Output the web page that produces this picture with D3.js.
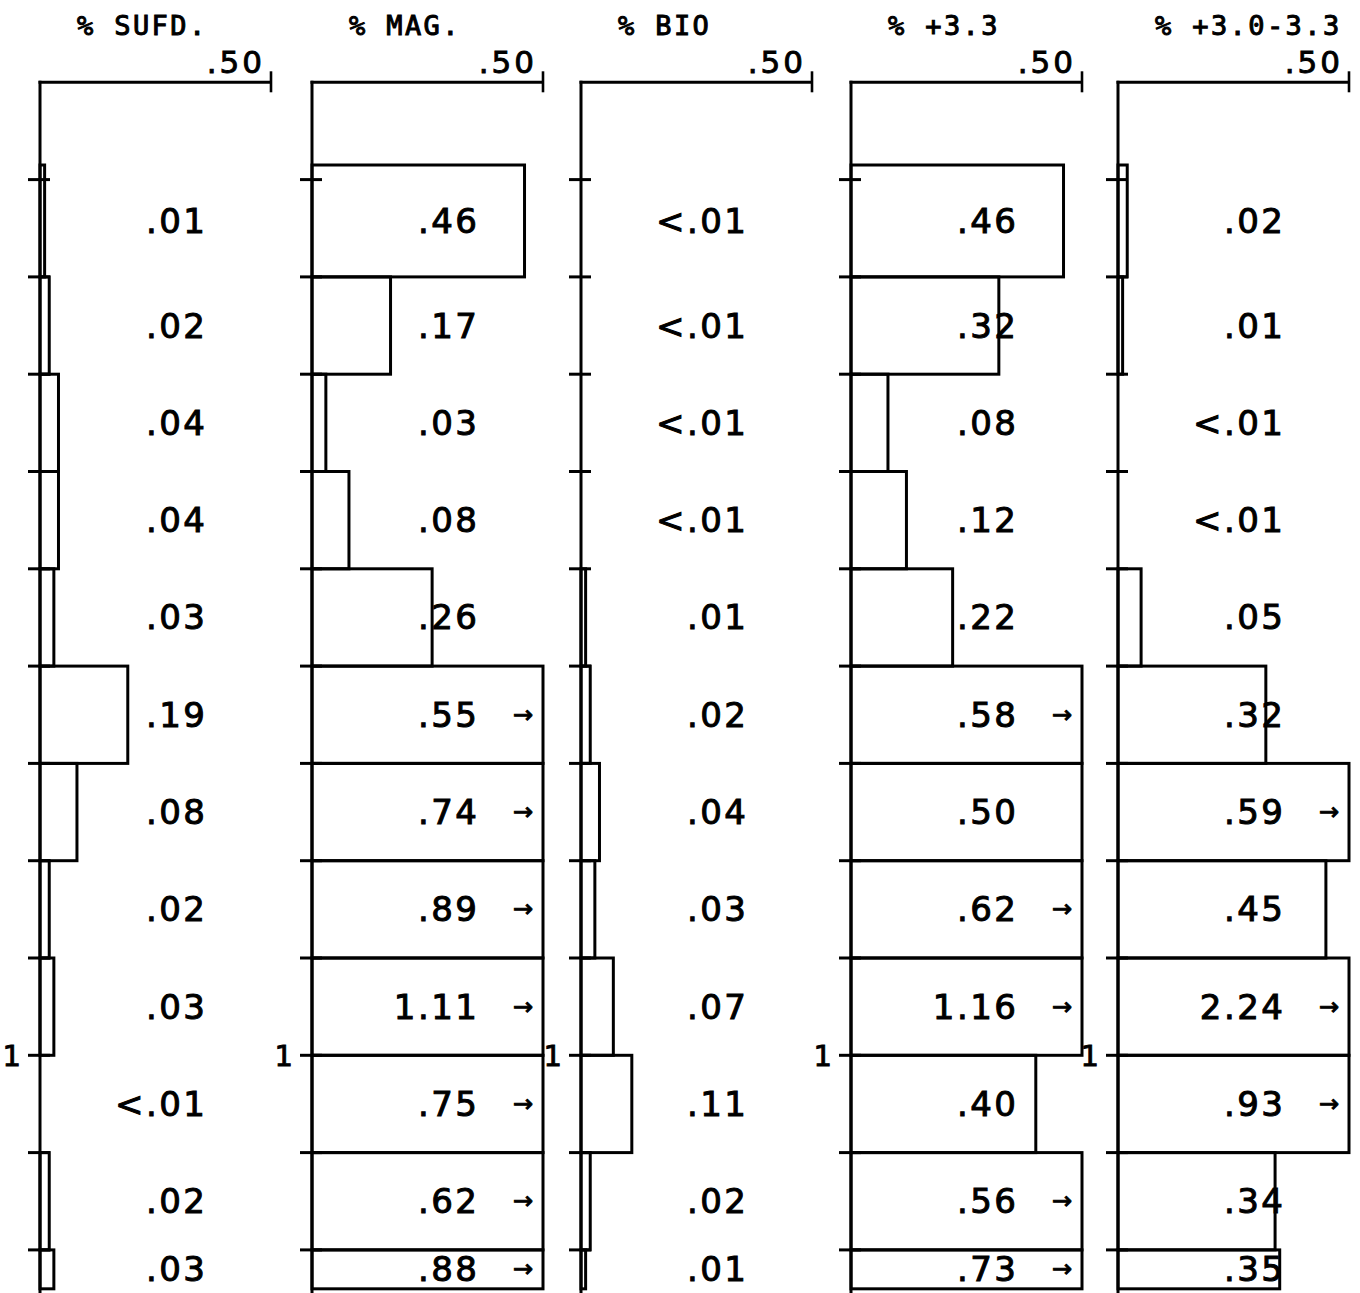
<!DOCTYPE html>
<html><head><meta charset="utf-8">
<script src="https://cdn.jsdelivr.net/npm/d3@7"></script>
<style>html,body{margin:0;padding:0;background:#fff}svg{display:block}</style>
</head><body>
<svg id="chart" width="1360" height="1293"></svg>
<script>
// ---- data ----
const panelTitles = ["% SUFD.", "% MAG.", "% BIO", "% +3.3", "% +3.0-3.3"];
// sample intervals (depth units, "1" marks depth 1)
const intervalTop    = [0.085, 0.2, 0.3, 0.4, 0.5, 0.6, 0.7, 0.8, 0.9, 1.0, 1.1, 1.2];
const intervalBottom = [0.2, 0.3, 0.4, 0.5, 0.6, 0.7, 0.8, 0.9, 1.0, 1.1, 1.2, 1.24];
const depthTicks = [0.1, 0.2, 0.3, 0.4, 0.5, 0.6, 0.7, 0.8, 0.9, 1.0, 1.1, 1.2];
const depthLabels = [{d: 1.0, t: "1"}];
const axisMax = 0.5;
const axisMaxLabel = ".50";
// 0 stands for "<.01"
const sufd  = [0.01, 0.02, 0.04, 0.04, 0.03, 0.19, 0.08, 0.02, 0.03, 0, 0.02, 0.03];
const mag   = [0.46, 0.17, 0.03, 0.08, 0.26, 0.55, 0.74, 0.89, 1.11, 0.75, 0.62, 0.88];
const bio   = [0, 0, 0, 0, 0.01, 0.02, 0.04, 0.03, 0.07, 0.11, 0.02, 0.01];
const p33   = [0.46, 0.32, 0.08, 0.12, 0.22, 0.58, 0.50, 0.62, 1.16, 0.40, 0.56, 0.73];
const p3033 = [0.02, 0.01, 0, 0, 0.05, 0.32, 0.59, 0.45, 2.24, 0.93, 0.34, 0.35];
const series = [sufd, mag, bio, p33, p3033];

// ---- layout ----
const panelLeft = [40, 312, 581, 851, 1118];
const panelWidth = 231;
const svg = d3.select("#chart");
const y = d3.scaleLinear().domain([0, 1]).range([82.3, 1055.3]);
const mono = "'DejaVu Sans Mono', 'Liberation Mono', monospace";
const sans = "'DejaVu Sans', 'Liberation Sans', sans-serif";
const fmt = v => v < 0.005 ? "<.01" : d3.format(".2f")(v).replace(/^0/, "");
const mid = j => (y(intervalTop[j]) + y(intervalBottom[j])) / 2;

panelTitles.forEach((title, i) => {
  const px = panelLeft[i];
  const x = d3.scaleLinear().domain([0, axisMax]).range([px, px + panelWidth]).clamp(true);
  const g = svg.append("g");
  const vals = series[i];

  // title
  g.append("text").attr("x", px + 37).attr("y", 35)
    .attr("font-family", mono).attr("font-size", 27).attr("letter-spacing", 2.4)
    .attr("fill", "#000").attr("stroke", "#000").attr("stroke-width", 1)
    .text(title);

  // top axis
  g.append("line").attr("x1", x(0) - 1.5).attr("x2", x(axisMax)).attr("y1", y(0)).attr("y2", y(0))
    .attr("stroke", "#000").attr("stroke-width", 3);
  g.append("line").attr("x1", x(axisMax)).attr("x2", x(axisMax)).attr("y1", y(0) - 11).attr("y2", y(0) + 10)
    .attr("stroke", "#000").attr("stroke-width", 2.6);
  g.append("text").attr("x", x(axisMax) - 9 + 3).attr("y", 73).attr("text-anchor", "end")
    .attr("font-family", sans).attr("font-size", 31).attr("letter-spacing", 3)
    .attr("fill", "#000").attr("stroke", "#000").attr("stroke-width", 0.9)
    .text(axisMaxLabel);

  // bars (histogram outline)
  g.selectAll("rect.bar").data(vals).join("rect").attr("class", "bar")
    .attr("x", x(0))
    .attr("y", (d, j) => y(intervalTop[j]))
    .attr("width", d => x(d) - x(0))
    .attr("height", (d, j) => y(intervalBottom[j]) - y(intervalTop[j]))
    .attr("fill", "none").attr("stroke", "#000").attr("stroke-width", 3);

  // spine
  g.append("line").attr("x1", x(0)).attr("x2", x(0)).attr("y1", y(0) - 1.5).attr("y2", 1293)
    .attr("stroke", "#000").attr("stroke-width", 3);

  // depth ticks
  g.selectAll("line.tick").data(depthTicks).join("line").attr("class", "tick")
    .attr("x1", x(0) - 12).attr("x2", x(0) + 10)
    .attr("y1", d => y(d)).attr("y2", d => y(d))
    .attr("stroke", "#000").attr("stroke-width", 3);
  g.selectAll("text.dl").data(depthLabels).join("text").attr("class", "dl")
    .attr("x", x(0) - 19).attr("y", d => y(d.d) + 11).attr("text-anchor", "end")
    .attr("font-family", sans).attr("font-size", 29)
    .attr("fill", "#000").attr("stroke", "#000").attr("stroke-width", 0.9)
    .text(d => d.t);

  // value labels
  g.selectAll("text.val").data(vals).join("text").attr("class", "val")
    .attr("x", x(0) + 165 + 2.5).attr("y", (d, j) => mid(j) + 12)
    .attr("text-anchor", "end")
    .attr("font-family", sans).attr("font-size", 34).attr("letter-spacing", 2.5)
    .attr("fill", "#000").attr("stroke", "#000").attr("stroke-width", 1)
    .text(fmt);

  // overflow arrows
  g.selectAll("text.arr").data(vals.map((v, j) => ({v, j})).filter(o => o.v > axisMax)).join("text").attr("class", "arr")
    .attr("x", x(0) + 211).attr("y", o => mid(o.j) + 8)
    .attr("text-anchor", "middle")
    .attr("font-family", sans).attr("font-size", 24)
    .attr("fill", "#000").attr("stroke", "#000").attr("stroke-width", 1)
    .text("→");
});
</script>
</body></html>
